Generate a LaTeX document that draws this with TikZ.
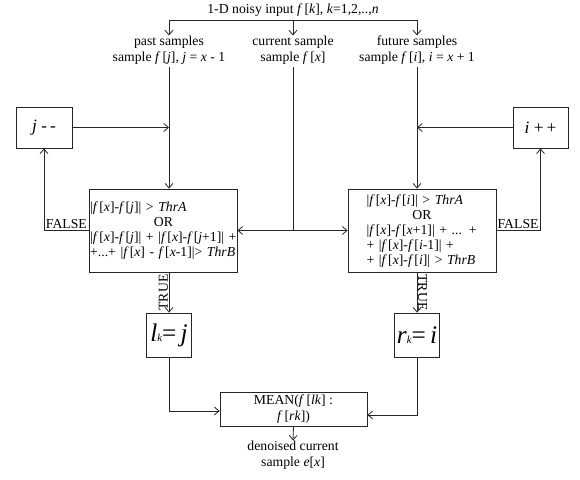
\documentclass[tikz,border=0pt]{standalone}
\usepackage{fontspec}
\setmainfont{Liberation Serif}
\usetikzlibrary{arrows.meta,calc}
\newcommand\itx[1]{\textit{#1}}
\newcommand\ff{\textit{f}\kern1.6pt}
\newcommand\fb{\textit{f}\kern0.8pt}
\begin{document}
\begin{tikzpicture}[x=0.75pt,y=-0.75pt,
  txt/.style={font=\fontsize{10.3}{12}\selectfont, inner sep=0pt, align=center},
  ln/.style={draw=black!85, line width=0.6pt},
  arr/.style={ln, -{Straight Barb[length=3.5pt,width=6pt]}},
  box/.style={ln, inner sep=0pt, font=\fontsize{10.3}{11.3}\selectfont},
  lbl/.style={font=\fontsize{10.3}{12}\selectfont, inner sep=0.5pt},
]
\useasboundingbox (0,0) rectangle (580,479);
\fill[white] (0,0) rectangle (580,479);

% top
\node[txt] (input) at (293,10) {1-D noisy input \ff[\itx{k}], \itx{k}=1,2,..,\itx{n}};
\coordinate (hl) at (169,20);
\coordinate (hc) at (293,20);
\coordinate (hr) at (417,20);
\node[txt] (past) at (169,50) {past samples\\sample \ff[\itx{j}], \itx{j} = \itx{x} - 1};
\node[txt] (cur) at (293,50) {current sample\\sample \ff[\itx{x}]};
\node[txt] (fut) at (417,50) {future samples\\sample \ff[\itx{i}], \itx{i} = \itx{x} + 1};
\coordinate (pastout) at (169,67);
\coordinate (curout) at (293,67);
\coordinate (futout) at (417,67);

% boxes
\node[box, minimum width=42pt, minimum height=30.75pt, font=\fontsize{13}{15}\selectfont] (jbox) at (44,127.5) {\itx{j} -\,-};
\node[box, minimum width=41.25pt, minimum height=30.75pt, font=\fontsize{13}{15}\selectfont] (ibox) at (540.5,127.5) {\itx{i} +\,+};

\node[box, minimum width=111pt, minimum height=62.25pt] (lbox) at (163,230.5) {};
\node[box, draw=none, text width=110pt, align=left] (ltext) at (163.5,230.5) {%
|\fb[\itx{x}]-\fb[\itx{j}]| > \itx{ThrA}\\
\makebox[\linewidth]{OR}\\
|\fb[\itx{x}]-\fb[\itx{j}]| + |\fb[\itx{x}]-\fb[\itx{j}+1]| +\\
+...+ |\fb[\itx{x}] - \fb[\itx{x}-1]|> \itx{ThrB}};

\node[box, minimum width=111pt, minimum height=62.25pt] (rbox) at (422,230.5) {};
\node[box, draw=none, text width=83pt, align=left] (rtext) at (422,231) {%
|\fb[\itx{x}]-\fb[\itx{i}]| > \itx{ThrA}\\
\makebox[\linewidth]{OR}\\
|\fb[\itx{x}]-\fb[\itx{x}+1]| + ... +\\
+ |\fb[\itx{x}]-\fb[\itx{i}-1]| +\\
+ |\fb[\itx{x}]-\fb[\itx{i}]| > \itx{ThrB}};

\node[box, minimum width=33.75pt, minimum height=33pt, font=\fontsize{19}{22}\selectfont] (lk) at (169,335) {\itx{l}{\fontsize{8}{8}\selectfont\itx{k}}=\,\itx{j}};
\node[box, minimum width=33.75pt, minimum height=33pt, font=\fontsize{19}{22}\selectfont] (rk) at (417,335) {\itx{r}{\fontsize{8}{8}\selectfont\itx{k}}=\,\itx{i}};

\node[box, minimum width=110.25pt, minimum height=25.5pt, align=center, font=\fontsize{10.3}{11.5}\selectfont] (mean) at (293.5,409) {MEAN(\ff[\itx{lk}] :\\\ff[\itx{rk}])};
\node[txt] (out) at (293,455) {denoised current\\sample \itx{e}[\itx{x}]};

% connectors
\draw[ln] (hl) -- (hr);
\draw[arr] (hl) -- (past.north);
\draw[arr] (hc) -- (cur.north);
\draw[arr] (hr) -- (fut.north);

\draw[arr] (pastout) -- (pastout |- lbox.north);
\draw[arr] (futout) -- (futout |- rbox.north);
\draw[arr] (jbox.east) -- (jbox.east -| pastout);
\draw[arr] (ibox.west) -- (ibox.west -| futout);

\coordinate (jn) at (curout |- lbox.east);
\draw[ln] (curout) -- (jn);
\draw[arr] (jn) -- (lbox.east);
\draw[arr] (jn) -- (rbox.west);

\draw[arr] (lbox.west) -| (jbox.south);
\node[lbl, anchor=south west] (lfalse) at ($(jbox.south |- lbox.west)+(1,-0.5)$) {FALSE};
\draw[arr] (rbox.east) -| (ibox.south);
\node[lbl, anchor=south east] (rfalse) at ($(ibox.south |- rbox.east)+(-1,-0.5)$) {FALSE};

\draw[arr] (lk.north |- lbox.south) -- node[lbl, rotate=90, anchor=south] (ltrue) {TRUE} (lk.north);
\draw[arr] (rk.north |- rbox.south) -- node[lbl, rotate=-90, anchor=south] (rtrue) {TRUE} (rk.north);

\draw[arr] (lk.south) |- ($(mean.west)+(0,2)$);
\draw[arr] (rk.south) |- ($(mean.east)+(0,6)$);
\draw[arr] (mean.south) -- (out.north);
\end{tikzpicture}
\end{document}
